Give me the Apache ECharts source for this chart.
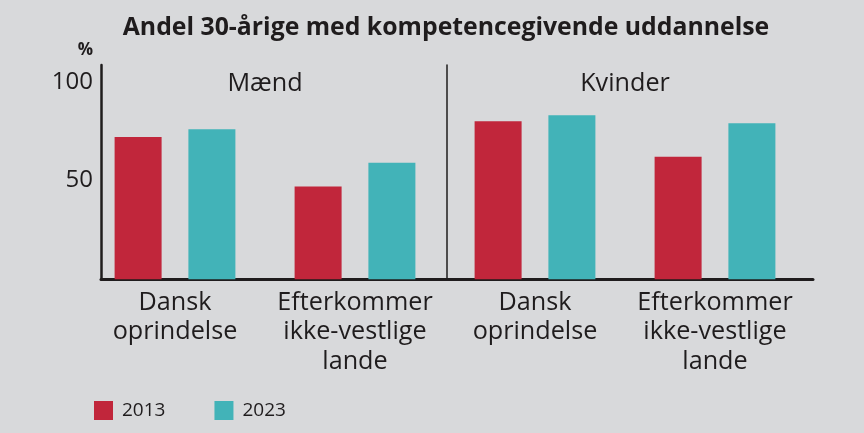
<!DOCTYPE html>
<html>
<head>
<meta charset="utf-8">
<script src="https://cdn.jsdelivr.net/npm/echarts@6/dist/echarts.min.js"></script>
<style>
html,body{margin:0;padding:0;background:#d8d9db;}
#c{width:864px;height:433px;}
</style>
</head>
<body>
<div id="c"></div>
<script>
var categories = ['Dansk\noprindelse', 'Efterkommer\nikke-vestlige\nlande', 'Dansk\noprindelse', 'Efterkommer\nikke-vestlige\nlande'];
var groups = ['Mænd', 'Kvinder'];
var years = ['2013', '2023'];
var values2013 = [72, 47, 80, 62];
var values2023 = [76, 59, 83, 79];
var yTicks = [0, 50, 100];

var FONT = '"Open Sans", "Noto Sans", sans-serif';
var TXT = '#1f1c1d';

var chart = echarts.init(document.getElementById('c'));
chart.setOption({
  backgroundColor: '#d8d9db',
  animation: false,
  textStyle: { fontFamily: FONT, color: TXT },
  title: {
    text: 'Andel 30-årige med kompetencegivende uddannelse',
    left: 441, top: 10, textAlign: 'center',
    textStyle: { fontFamily: FONT, fontWeight: 'bold', fontSize: 24.8, color: TXT }
  },
  legend: {
    left: 94, top: 401, padding: 0,
    itemWidth: 19, itemHeight: 19, itemGap: 49,
    icon: 'rect',
    data: years,
    textStyle: { fontFamily: FONT, fontSize: 19, color: TXT, padding: [0, 0, 0, 4] }
  },
  grid: [
    { left: 85, width: 720, top: 65, height: 214.3 },
    { left: 101, width: 712, top: 65, height: 214.3 },
    { left: 446.5, width: 366.5, top: 65, height: 214.3 }
  ],
  xAxis: [
    {
      type: 'category', gridIndex: 0, data: categories,
      axisLine: { show: false }, axisTick: { show: false },
      axisLabel: { interval: 0, fontFamily: FONT, fontSize: 25.2, lineHeight: 29.3, color: TXT, margin: 9 }
    },
    {
      type: 'category', gridIndex: 0, position: 'top', data: groups,
      axisLine: { show: false }, axisTick: { show: false },
      axisLabel: { interval: 0, inside: true, fontFamily: FONT, fontSize: 25.2, color: TXT, margin: 6 }
    },
    {
      type: 'category', gridIndex: 1, data: categories,
      axisLine: { show: true, lineStyle: { color: TXT, width: 3 } },
      axisTick: { show: false }, axisLabel: { show: false }
    },
    {
      type: 'category', gridIndex: 2, data: groups,
      axisLine: { show: false }, axisTick: { show: false }, axisLabel: { show: false }
    }
  ],
  yAxis: [
    { type: 'value', gridIndex: 0, min: 0, max: 108.5, show: false },
    {
      type: 'value', gridIndex: 1, min: 0, max: 108.5, interval: 50,
      name: '%', nameLocation: 'end', nameGap: 6,
      nameTextStyle: { fontFamily: FONT, fontSize: 17, fontWeight: 'bold', color: TXT, align: 'right', padding: [0, 8, 0, 0] },
      axisLine: { show: true, lineStyle: { color: TXT, width: 2.5 } },
      axisTick: { show: false }, splitLine: { show: false },
      axisLabel: {
        fontFamily: FONT, fontSize: 24, color: TXT, margin: 8,
        formatter: function (v) { return yTicks.indexOf(v) > 0 ? String(v) : ''; }
      }
    },
    {
      type: 'value', gridIndex: 2, min: 0, max: 108.5,
      axisLine: { show: true, lineStyle: { color: TXT, width: 1.5 } },
      axisTick: { show: false }, axisLabel: { show: false }, splitLine: { show: false }
    }
  ],
  series: [
    { name: years[0], type: 'bar', xAxisIndex: 0, yAxisIndex: 0, data: values2013, barWidth: 47, barGap: '57%', itemStyle: { color: '#c1263b' } },
    { name: years[1], type: 'bar', xAxisIndex: 0, yAxisIndex: 0, data: values2023, barWidth: 47, barGap: '57%', itemStyle: { color: '#42b3b8' } }
  ]
});
</script>
</body>
</html>
